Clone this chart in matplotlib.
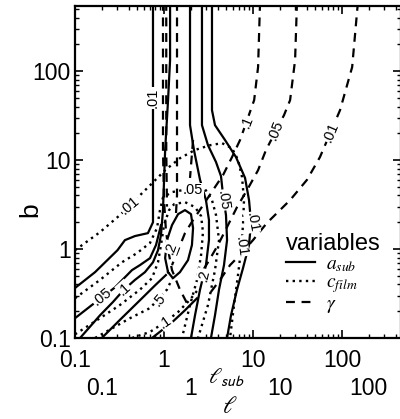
import numpy as np
import matplotlib
matplotlib.use('Agg')
import matplotlib.pyplot as plt
from matplotlib.lines import Line2D

plt.rcParams['font.family'] = ['Liberation Sans', 'DejaVu Sans']
plt.rcParams['mathtext.fontset'] = 'stix'

# contour lines: (l_sub values, b values)
# a_sub (solid)
a1_l = [0.1, 0.168, 0.30, 0.364, 0.472, 0.66, 0.752, 0.752]
a1_b = [0.365, 0.55, 0.97, 1.26, 1.40, 1.51, 2.0, 600]
a2_l = [0.1, 0.155, 0.281, 0.437, 0.537, 0.696, 0.813, 0.878, 0.925]
a2_b = [0.167, 0.235, 0.37, 0.58, 0.66, 0.79, 1.11, 1.50, 1.86]
a3_l = [0.114, 0.191, 0.267, 0.355, 0.472, 0.611, 0.752, 0.856, 0.925, 0.974, 1.03, 1.11, 1.17, 1.17]
a3_b = [0.1, 0.18, 0.254, 0.35, 0.45, 0.55, 0.71, 0.97, 1.44, 2.74, 13, 47, 133, 600]
a4_l = [0.2, 0.32, 0.566, 0.792, 1.05]
a4_b = [0.1, 0.16, 0.28, 0.39, 0.51]
a5_l = [0.733, 1.23, 1.72, 2.35]
a5_b = [0.1, 0.15, 0.205, 0.28]
ar3_l = [1.96, 1.96, 2.17, 2.54, 2.96, 3.2, 3.2, 2.96, 2.54, 2.23, 2.01]
ar3_b = [600, 24.7, 13, 6.0, 3.55, 2.12, 1.26, 0.66, 0.35, 0.18, 0.1]
ar2_l = [2.67, 2.67, 3.12, 3.84, 4.37, 4.61, 4.97, 5.11, 4.72, 4.15, 3.74, 3.37]
ar2_b = [600, 24.7, 14.7, 9.5, 6.6, 4.0, 2.41, 1.26, 0.66, 0.35, 0.18, 0.1]
ar1_l = [3.46, 3.46, 3.74, 4.85, 6.44, 8.14, 9.02, 9.5, 9.02, 7.72, 6.61, 5.66, 5.11]
ar1_b = [600, 36.4, 24.7, 16.8, 10.8, 6.3, 3.55, 2.0, 1.11, 0.61, 0.35, 0.18, 0.1]
ell_l = [1.11, 1.03, 1.08, 1.23, 1.44, 1.72, 2.01, 2.12, 2.06, 1.86, 1.51, 1.26, 1.11]
ell_b = [0.55, 0.79, 1.26, 1.86, 2.47, 2.74, 2.47, 1.72, 1.11, 0.75, 0.55, 0.47, 0.55]

# c_film (dotted)
c1_l = [0.1, 0.191, 0.32, 0.696, 1.03, 1.51, 2.23, 3.29, 4.49, 5.81, 6.78, 7.53, 7.92, 7.72, 7.33, 6.78, 6.12, 5.52]
c1_b = [0.97, 1.55, 2.41, 5.2, 7.7, 10.5, 13, 14.7, 15.5, 13.6, 10.1, 6.44, 3.55, 1.86, 0.97, 0.51, 0.235, 0.1]
c2_l = [0.1, 0.191, 0.337, 0.497, 0.696, 0.834, 0.901, 0.974, 1.23, 1.63, 2.12, 2.89, 3.46, 3.84, 4.15, 3.74, 3.12, 2.41]
c2_b = [0.28, 0.45, 0.71, 0.90, 1.17, 1.72, 2.74, 3.8, 4.37, 4.6, 4.6, 4.72, 3.55, 2.41, 1.26, 0.58, 0.235, 0.1]
c3_l = [0.1, 0.191, 0.32, 0.537, 0.733, 0.856, 0.925, 1.0, 1.14, 1.30, 1.72, 2.23, 2.61, 2.74, 2.61, 2.35, 1.96, 1.59]
c3_b = [0.11, 0.167, 0.235, 0.35, 0.47, 0.71, 1.11, 1.86, 2.74, 3.2, 3.37, 2.96, 2.35, 1.55, 0.86, 0.45, 0.235, 0.1]
c4_l = [0.168, 0.415, 0.696, 1.08, 1.23]
c4_b = [0.1, 0.167, 0.217, 0.35, 0.46]
c5_l = [0.437, 0.696, 1.03, 1.44, 1.96, 2.41]
c5_b = [0.1, 0.117, 0.151, 0.196, 0.27, 0.35]

# gamma (dashed)
g1_l = [151, 130, 95, 56.5, 40.4, 26.1, 14.3, 10, 7.15, 5.52, 4.26, 3.29]
g1_b = [600, 111, 36.4, 10.8, 6.0, 3.55, 1.96, 1.26, 0.86, 0.66, 0.45, 0.32]
g2_l = [31.2, 29.7, 26.1, 22.3, 14.0, 11.4, 8.57, 6.61, 5.24, 4.04, 3.12, 2.41]
g2_b = [600, 133, 47.2, 32, 13, 7.7, 4.6, 2.96, 1.86, 1.11, 0.71, 0.47]
g3_l = [12, 11.4, 10.3, 7.15, 5.81, 4.61, 3.55, 2.74, 2.12, 1.72, 1.44, 1.23]
g3_b = [600, 111, 47.2, 16.8, 10.8, 6.8, 4.6, 3.1, 2.12, 1.51, 0.97, 0.66]
d1_l = [0.974, 0.974, 1.0, 1.05, 1.14, 1.23, 1.51, 1.81]
d1_b = [600, 13, 3.55, 1.64, 0.86, 0.58, 0.35, 0.247]
d4_l = [1.06, 1.06, 1.08]
d4_b = [600, 13, 3.0]
d2_l = [1.40, 1.40, 1.36]
d2_b = [600, 4.0, 2.41]
d3_l = [2.12, 1.96]
d3_b = [16.8, 6.3]

# contour labels: text, l_sub, b, rotation
labels = [
    ('.01', 0.752, 50, 90), ('.05', 0.20, 0.29, 38), ('.1', 0.355, 0.36, 42),
    ('.2', 2.81, 0.51, 78), ('.05', 4.61, 3.55, -82), ('.01', 9.75, 2.0, -80),
    ('.2', 1.2, 1.03, 70),
    ('.01', 0.415, 3.12, 40), ('.01', 7.33, 1.08, -82), ('.05', 2.12, 4.6, 0),
    ('.5', 0.90, 0.267, 50), ('.1', 1.03, 0.151, 35),
    ('.01', 75, 20.6, 67), ('.05', 18.1, 21.8, 68), ('.1', 8.57, 26.7, 68),
]

solid = dict(color='black', lw=1.6, linestyle='-')
dotted = dict(color='black', lw=1.7, linestyle=(0, (1, 1.8)))
dashed = dict(color='black', lw=1.6, linestyle=(0, (4, 3)))

fig = plt.figure(figsize=(4, 4.19), dpi=100)
ax = fig.add_axes([0.1875, 0.1933, 0.815, 0.7924])

for xs, ys in [(a1_l, a1_b), (a2_l, a2_b), (a3_l, a3_b), (a4_l, a4_b), (a5_l, a5_b),
               (ar3_l, ar3_b), (ar2_l, ar2_b), (ar1_l, ar1_b), (ell_l, ell_b)]:
    ax.plot(xs, ys, **solid)
for xs, ys in [(c1_l, c1_b), (c2_l, c2_b), (c3_l, c3_b), (c4_l, c4_b), (c5_l, c5_b)]:
    ax.plot(xs, ys, **dotted)
for xs, ys in [(g1_l, g1_b), (g2_l, g2_b), (g3_l, g3_b), (d1_l, d1_b), (d4_l, d4_b),
               (d2_l, d2_b), (d3_l, d3_b)]:
    ax.plot(xs, ys, **dashed)

for txt, lx, by, rot in labels:
    ax.text(lx, by, txt, rotation=rot, fontsize=10.5, ha='center', va='center',
            rotation_mode='anchor', zorder=5,
            bbox=dict(fc='white', ec='none', pad=0.3))

ax.set_xscale('log')
ax.set_yscale('log')
ax.set_xlim(0.1, 460)
ax.set_ylim(0.1, 540)
ax.set_xticks([0.1, 1, 10, 100])
ax.set_xticklabels(['0.1', '1', '10', '100'])
ax.set_yticks([0.1, 1, 10, 100])
ax.set_yticklabels(['0.1', '1', '10', '100'])
ax.tick_params(which='both', direction='in', top=True, right=True, labelsize=16.5)
ax.tick_params(which='major', length=6, width=1.2)
ax.tick_params(which='minor', length=3, width=1)
ax.tick_params(axis='x', which='major', pad=8)
ax.tick_params(axis='y', which='major', pad=3)
for s in ax.spines.values():
    s.set_linewidth(1.6)

sec = ax.secondary_xaxis(-0.10, functions=(lambda x: x / 2, lambda x: x * 2))
sec.set_xticks([0.1, 1, 10, 100])
sec.set_xticklabels(['0.1', '1', '10', '100'])
sec.tick_params(which='both', length=0, labelsize=16.5, pad=4)
sec.spines['bottom'].set_visible(False)

fig.text(226 / 400, 1 - 377 / 419, r'$\ell_{\mathsf{sub}}$', fontsize=16, ha='center', va='center')
fig.text(230 / 400, 1 - 407 / 419, r'$\ell$', fontsize=17, ha='center', va='center')
fig.text(30 / 400, 1 - 210 / 419, 'b', fontsize=19, rotation=90, ha='center', va='center')

handles = [Line2D([], [], **solid), Line2D([], [], **dotted), Line2D([], [], **dashed)]
leg = ax.legend(handles, [r'$a_{sub}$', r'$c_{film}$', r'$\gamma$'], title='variables',
                loc='upper left', bbox_to_anchor=(0.61, 0.35), frameon=False,
                fontsize=14, title_fontsize=17, handlelength=1.5, labelspacing=0.0,
                borderpad=0.1, handletextpad=0.6)
leg._legend_box.align = 'left'

fig.savefig('out.png', dpi=100)
